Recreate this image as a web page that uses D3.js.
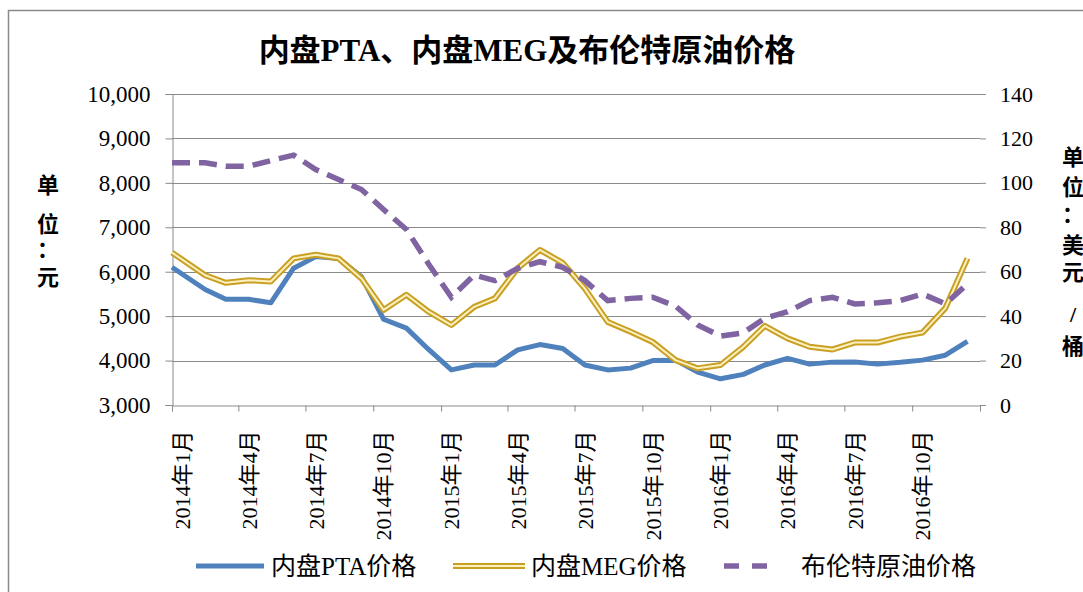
<!DOCTYPE html>
<html>
<head>
<meta charset="utf-8">
<script src="https://cdn.jsdelivr.net/npm/d3@7"></script>
<style>
  body { margin: 0; background: #fff; }
  svg { display: block; }
  text { font-family: "Liberation Serif", "Noto Sans CJK SC", serif; fill: #000; }
</style>
</head>
<body>
<svg id="chart" width="1083" height="592"></svg>
<script>
// monthly data, first point sits on the axis, the rest mid-month
const dates = [
  "2014-01-01", "2014-02-15", "2014-03-15", "2014-04-15", "2014-05-15", "2014-06-15",
  "2014-07-15", "2014-08-15", "2014-09-15", "2014-10-15", "2014-11-15", "2014-12-15",
  "2015-01-15", "2015-02-15", "2015-03-15", "2015-04-15", "2015-05-15", "2015-06-15",
  "2015-07-15", "2015-08-15", "2015-09-15", "2015-10-15", "2015-11-15", "2015-12-15",
  "2016-01-15", "2016-02-15", "2016-03-15", "2016-04-15", "2016-05-15", "2016-06-15",
  "2016-07-15", "2016-08-15", "2016-09-15", "2016-10-15", "2016-11-15", "2016-12-15"
];
const pta = [6100, 5600, 5380, 5380, 5300, 6080, 6340, 6300, 5890, 4930, 4730, 4250,
             3790, 3900, 3900, 4240, 4360, 4270, 3900, 3790, 3830, 4000, 4010, 3740,
             3590, 3690, 3900, 4050, 3920, 3965, 3970, 3920, 3960, 4010, 4120, 4430];
const meg = [6430, 5920, 5750, 5810, 5780, 6300, 6380, 6300, 5850, 5140, 5480, 5100,
             4800, 5210, 5400, 6080, 6490, 6200, 5620, 4870, 4650, 4420, 4010, 3825,
             3900, 4310, 4780, 4500, 4310, 4250, 4405, 4405, 4540, 4630, 5180, 6300];
const brent = [109, 109, 107.5, 107.5, 110, 112.5, 106, 101.5, 97, 88, 79, 63.5,
               48.5, 58.5, 56, 61.5, 64.5, 62, 56, 47, 48, 48.5, 44.5, 36,
               31, 32.5, 39, 42, 47, 48.5, 45.5, 46, 47, 50, 45.5, 54.5];

const tickDates = ["2014-01-01", "2014-04-01", "2014-07-01", "2014-10-01",
                   "2015-01-01", "2015-04-01", "2015-07-01", "2015-10-01",
                   "2016-01-01", "2016-04-01", "2016-07-01", "2016-10-01"];
const tickLabels = ["2014年1月", "2014年4月", "2014年7月", "2014年10月",
                    "2015年1月", "2015年4月", "2015年7月", "2015年10月",
                    "2016年1月", "2016年4月", "2016年7月", "2016年10月"];
const leftTicks = [3000, 4000, 5000, 6000, 7000, 8000, 9000, 10000];
const rightTicks = [0, 20, 40, 60, 80, 100, 120, 140];
const seriesNames = ["内盘PTA价格", "内盘MEG价格", "布伦特原油价格"];

const parse = d3.timeParse("%Y-%m-%d");
const svg = d3.select("#chart");
const L = 172, R = 980, T = 94, B = 405;
const grid = "#8a8a8a";

// chart border
svg.append("rect")
  .attr("x", 8.5).attr("y", 10.5).attr("width", 1100).attr("height", 600)
  .attr("fill", "none").attr("stroke", "#8a8a8a").attr("stroke-width", 1.5);

const x = d3.scaleTime()
  .domain([parse("2014-01-01"), parse("2017-01-01")])
  .range([L, R]);
const yL = d3.scaleLinear().domain([3000, 10000]).range([B, T]);
const yR = d3.scaleLinear().domain([0, 140]).range([B, T]);

// gridlines
svg.append("g").selectAll("line")
  .data(leftTicks.slice(1))
  .join("line")
  .attr("x1", L).attr("x2", R)
  .attr("y1", d => Math.round(yL(d)) + 0.5).attr("y2", d => Math.round(yL(d)) + 0.5)
  .attr("stroke", grid).attr("stroke-width", 1);

// left axis
const gl = svg.append("g").attr("transform", `translate(${L + 0.5},0)`)
  .call(d3.axisLeft(yL).tickValues(leftTicks).tickSize(7).tickPadding(15)
    .tickFormat(d3.format(",")));
gl.selectAll("text").attr("font-size", 23).attr("font-family", "Liberation Serif");

// right axis
const gr = svg.append("g").attr("transform", `translate(${R},0)`)
  .call(d3.axisRight(yR).tickValues(rightTicks).tickSize(6).tickPadding(14));
gr.select(".domain").remove();
gr.selectAll("text").attr("font-size", 22).attr("font-family", "Liberation Serif");

// bottom axis
const gb = svg.append("g").attr("transform", `translate(0,${B + 0.5})`)
  .call(d3.axisBottom(x).tickValues(tickDates.map(parse)).tickSize(6)
    .tickFormat((d, i) => tickLabels[i]));
gb.selectAll("text")
  .attr("transform", "rotate(-90)")
  .attr("x", -25).attr("y", 10).attr("dy", "0.35em")
  .attr("text-anchor", "end")
  .attr("font-size", 22);

[gl, gr, gb].forEach(g => {
  g.selectAll(".domain").attr("stroke", grid);
  g.selectAll(".tick line").attr("stroke", grid);
});

// series
const pts = dates.map(parse);
const lineL = vals => d3.line().x((d, i) => x(pts[i])).y(d => yL(d))(vals);
const lineR = vals => d3.line().x((d, i) => x(pts[i])).y(d => yR(d))(vals);

svg.append("path").attr("d", lineL(pta))
  .attr("fill", "none").attr("stroke", "#4F81BD").attr("stroke-width", 5)
  .attr("stroke-linejoin", "round");
svg.append("path").attr("d", lineL(meg))
  .attr("fill", "none").attr("stroke", "#C9A023").attr("stroke-width", 6)
  .attr("stroke-linejoin", "round");
svg.append("path").attr("d", lineL(meg))
  .attr("fill", "none").attr("stroke", "#FBF0C0").attr("stroke-width", 2)
  .attr("stroke-linejoin", "round");
svg.append("path").attr("d", lineR(brent))
  .attr("fill", "none").attr("stroke", "#8064A2").attr("stroke-width", 5.5)
  .attr("stroke-dasharray", "18,9");

// title
svg.append("text")
  .attr("x", 527).attr("y", 61).attr("text-anchor", "middle")
  .attr("font-size", 31).attr("font-weight", "bold")
  .text("内盘PTA、内盘MEG及布伦特原油价格");

// axis unit labels (wrapped one char per line)
const unitL = ["单", "位", "：", "元"];
const unitLy = [193, 232, 257, 285];
svg.append("text").attr("font-size", 22).attr("font-weight", "bold")
  .selectAll("tspan").data(unitL).join("tspan")
  .attr("x", 48).attr("text-anchor", "middle")
  .attr("y", (d, i) => unitLy[i]).text(d => d);

const unitR = ["单", "位", "：", "美", "元", "/", "桶"];
const unitRy = [165, 195, 222, 253, 280, 322, 354];
svg.append("text").attr("font-size", 22).attr("font-weight", "bold")
  .selectAll("tspan").data(unitR).join("tspan")
  .attr("x", 1073).attr("text-anchor", "middle")
  .attr("y", (d, i) => unitRy[i]).text(d => d);

// legend
const lg = svg.append("g").attr("transform", "translate(0,566)");
lg.append("line").attr("x1", 196).attr("x2", 264)
  .attr("stroke", "#4F81BD").attr("stroke-width", 5);
lg.append("line").attr("x1", 453).attr("x2", 525)
  .attr("stroke", "#C9A023").attr("stroke-width", 6);
lg.append("line").attr("x1", 453).attr("x2", 525)
  .attr("stroke", "#FBF0C0").attr("stroke-width", 2);
lg.append("line").attr("x1", 724).attr("x2", 770)
  .attr("stroke", "#8064A2").attr("stroke-width", 5.5)
  .attr("stroke-dasharray", "15,13");
const legX = [271, 531, 801];
lg.selectAll("text.leg").data(seriesNames).join("text")
  .attr("class", "leg")
  .attr("x", (d, i) => legX[i]).attr("y", 9)
  .attr("font-size", 25).text(d => d);
</script>
</body>
</html>
